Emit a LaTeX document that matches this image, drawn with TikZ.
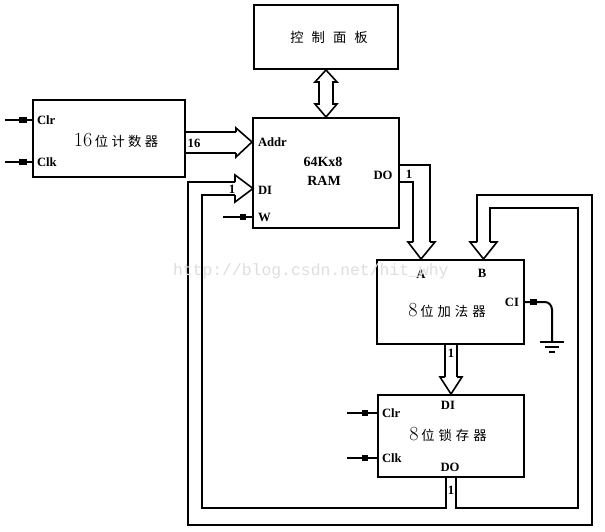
\documentclass[tikz,border=0pt]{standalone}
\usepackage{fontspec}
\newfontfamily\cjk{Noto Sans CJK SC}
\newfontfamily\lblfont{Liberation Serif}
\newfontfamily\monof{Liberation Mono}
\begin{document}
\begin{tikzpicture}[x=0.75pt,y=-0.75pt,line width=1.5pt,
  box/.style={draw,fill=white,inner sep=0pt,line width=1.5pt},
  bus/.style={line width=1.5pt},
  head/.style={line width=1.2pt,line join=miter},
  lbl/.style={inner sep=0pt,font=\lblfont\bfseries\fontsize{9.5}{10}\selectfont},
  pin/.style={fill=black,draw=none},
  thin/.style={line width=1pt},
  cn/.style={inner sep=0pt}]
\useasboundingbox (0,0) rectangle (605,531);

% boxes
\node[box,minimum width=152*0.75pt,minimum height=77*0.75pt] (ctr) at (109,138.5) {};
\node[box,minimum width=146*0.75pt,minimum height=110*0.75pt] (ram) at (326,173) {};
\node[box,minimum width=144*0.75pt,minimum height=64*0.75pt] (panel) at (326,37) {};
\node[box,minimum width=147*0.75pt,minimum height=84*0.75pt] (add) at (450.5,302) {};
\node[box,minimum width=146*0.75pt,minimum height=82*0.75pt] (reg) at (451,436) {};

% titles
\node[cn] (ptitle) at (329,37) {\cjk\fontsize{10}{11}\selectfont 控\hspace{6pt}制\hspace{6pt}面\hspace{6pt}板};
\node[cn] (ctitle) at (116,140) {\fontsize{15}{16}\selectfont 16\hspace{2pt}\cjk\fontsize{10}{11}\selectfont 位\hspace{2.5pt}计\hspace{2.5pt}数\hspace{2.5pt}器};
\node[cn] (atitle) at (447,310) {\fontsize{15}{16}\selectfont 8\hspace{2pt}\cjk\fontsize{10}{11}\selectfont 位\hspace{3pt}加\hspace{3pt}法\hspace{3pt}器};
\node[cn] (rtitle) at (448,434) {\fontsize{15}{16}\selectfont 8\hspace{2pt}\cjk\fontsize{10}{11}\selectfont 位\hspace{3pt}锁\hspace{3pt}存\hspace{3pt}器};

% labels
\node[lbl,anchor=west] (cclr) at (36,120) {Clr};
\node[lbl,anchor=west] (cclk) at (36,162) {Clk};
\node[lbl,anchor=west] (raddr) at (257,142) {Addr};
\node[lbl,anchor=west] (rdi) at (257,190) {DI};
\node[lbl,anchor=west] (rw) at (257,217) {W};
\node[lbl] (rdo) at (383,175) {DO};
\node[lbl,font=\lblfont\bfseries\fontsize{10.5}{11}\selectfont] (rname1) at (323,162) {64Kx8};
\node[lbl,font=\lblfont\bfseries\fontsize{10.5}{11}\selectfont] (rname2) at (324,181) {RAM};
\node[lbl] (aa) at (421,274) {A};
\node[lbl] (ab) at (482,273) {B};
\node[lbl] (aci) at (512,302) {CI};
\node[lbl] (gdi) at (448,405) {DI};
\node[lbl,anchor=west] (gclr) at (381,413) {Clr};
\node[lbl,anchor=west] (gclk) at (381,458) {Clk};
\node[lbl] (gdo) at (450,467) {DO};
\node[lbl] (w16) at (194,143) {16};
\node[lbl] (w1a) at (409,174) {1};
\node[lbl] (w1b) at (232,189) {1};
\node[lbl] (w1c) at (451,353) {1};
\node[lbl] (w1d) at (451,490) {1};

% input pins
\coordinate (i1) at (5,120); \coordinate (i2) at (5,162);
\coordinate (i3) at (223,217); \coordinate (i4) at (347,413); \coordinate (i5) at (347,458);
\draw[bus] (i1) -- (i1 -| ctr.west);
\draw[bus] (i2) -- (i2 -| ctr.west);
\draw[bus] (i3) -- (i3 -| ram.west);
\draw[bus] (i4) -- (i4 -| reg.west);
\draw[bus] (i5) -- (i5 -| reg.west);
\fill (19,117) rectangle (27,123);
\fill (19,159) rectangle (27,165);
\fill (240,214) rectangle (246,220);
\fill (362,410) rectangle (368,416);
\fill (362,455) rectangle (368,461);

% panel <-> ram double arrow
\draw[head] (panel.south) -- (315,82) -- (319,82) -- (319,104) -- (315,104) -- (ram.north)
  -- (337,104) -- (333,104) -- (333,82) -- (337,82) -- cycle;

% Addr bus
\draw[bus] (ctr.east |- 0,132) -- (236,132);
\draw[bus] (ctr.east |- 0,153) -- (236,153);
\draw[head] (236,132) -- (236,128) -- (ram.west |- 0,142) -- (236,157) -- (236,153);

% DO -> A bus
\draw[bus] (ram.east |- 0,165) -- (430,165) -- (430,242);
\draw[bus] (ram.east |- 0,182) -- (413,182) -- (413,242);
\draw[head] (413,242) -- (408,242) -- (421,0 |- add.north) -- (435,242) -- (430,242);

% adder -> register bus
\draw[bus] (445,0 |- add.south) -- (445,377);
\draw[bus] (457,0 |- add.south) -- (457,377);
\draw[head] (445,377) -- (440,377) -- (451,0 |- reg.north) -- (462,377) -- (457,377);

% register DO feedback buses
\draw[bus] (235,182) -- (188,182) -- (188,525) -- (592,525) -- (592,195) -- (477,195) -- (477,242);
\draw[bus] (446,0 |- reg.south) -- (446,508) -- (202,508) -- (202,195) -- (235,195);
\draw[bus] (456,0 |- reg.south) -- (456,508) -- (578,508) -- (578,208) -- (490,208) -- (490,242);
\draw[head] (235,182) -- (235,175) -- (253,188.5) -- (235,202) -- (235,195);
\draw[head] (477,242) -- (470,242) -- (483.5,0 |- add.north) -- (497,242) -- (490,242);

% CI to ground
\coordinate (gnd) at (552,342);
\draw[bus] (add.east |- 0,302) -- (545,302) to[out=0,in=90] (552,310) -- (gnd);
\fill (530,299) rectangle (537,305);
\draw[thin] (540,342) -- (564,342);
\draw[thin] (545,347) -- (559,347);
\draw[thin] (549,352) -- (555,352);

% watermark
\node[anchor=west,inner sep=0pt,text=black!13] (wm) at (172,271) {\monof\fontsize{12.3}{13}\selectfont http://blog.csdn.net/hit\_why};
\end{tikzpicture}
\end{document}
